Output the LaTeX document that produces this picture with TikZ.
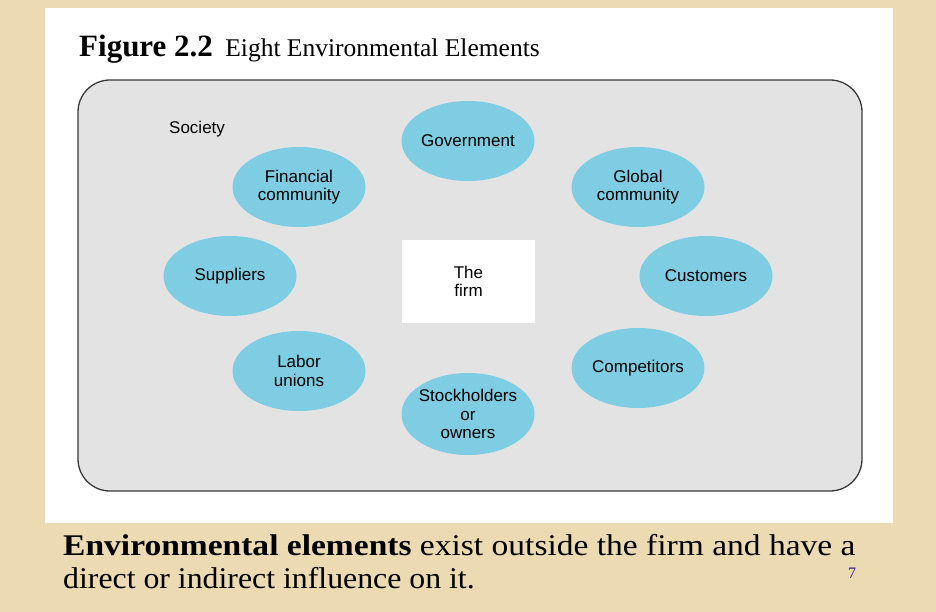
\documentclass[tikz,border=0pt]{standalone}
\usepackage{fontspec}
\setmainfont{Liberation Serif}
\setsansfont{Liberation Sans}
\usepackage{tikz}
\usetikzlibrary{positioning, shapes.geometric}
\definecolor{parch}{HTML}{EBDAB2}
\definecolor{socgray}{HTML}{E3E3E3}
\definecolor{socline}{HTML}{3A3A3A}
\definecolor{elblue}{HTML}{7FCDE3}
\definecolor{pgblue}{HTML}{33238A}

\begin{document}
\begin{tikzpicture}[
  x=1pt, y=-1pt,
  font=\sffamily,
  elem/.style={ellipse, fill=elblue, minimum width=133pt, minimum height=80pt, inner xsep=-8pt, inner ysep=0pt, align=center, font=\sffamily\fontsize{17}{18.5}\selectfont},
  firmbox/.style={rectangle, fill=white, minimum width=133pt, minimum height=83pt, align=center, font=\sffamily\fontsize{17}{18}\selectfont},
  lbl/.style={inner sep=0pt, anchor=base west}
]
\useasboundingbox (0,0) rectangle (936,612);
\fill[parch] (0,0) rectangle (936,612);
\fill[white] (45,8) rectangle (893,523);

% title
\node[lbl, font=\rmfamily\fontsize{31}{34}\selectfont] (title) at (79,57) {\textbf{Figure 2.2}\hspace{0.4em}{\fontsize{25.5}{28}\selectfont Eight Environmental Elements}};

% society frame
\draw[socline, line width=1.3pt, fill=socgray, rounded corners=32pt] (78,80) rectangle (862,491);
\node[lbl, font=\sffamily\fontsize{17}{19}\selectfont] (soc) at (169,134) {Society};

\node[firmbox] (firm) at (468.5,281.5) {The\\firm};

\node[elem] (gov)   at (468,141) {Government};
\node[elem] (fin)   at (299,187) {Financial\\community};
\node[elem] (glob)  at (638,187) {Global\\community};
\node[elem] (supp)  at (230,276) {Suppliers};
\node[elem] (cust)  at (706,276) {Customers};
\node[elem] (lab)   at (299,371) {Labor\\unions};
\node[elem] (comp)  at (638,368) {Competitors};
\node[elem, minimum height=82pt] (stock) at (468,414) {Stockholders\\or\\owners};

% caption
\node[lbl, font=\rmfamily\fontsize{30}{34}\selectfont] (cap1) at (63,555) {\scalebox{1.117}[1]{\textbf{Environmental elements} exist outside the firm and have a}};
\node[lbl, font=\rmfamily\fontsize{30}{34}\selectfont] (cap2) at (63,588) {\scalebox{1.06}[1]{direct or indirect influence on it.}};
\node[lbl, font=\rmfamily\fontsize{16}{18}\selectfont, text=pgblue] (pg) at (848,578) {7};

\end{tikzpicture}
\end{document}
